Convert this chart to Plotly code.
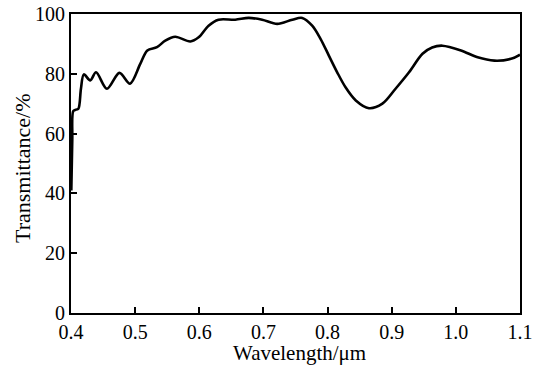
import plotly.graph_objects as go

wavelength = [0.4005, 0.402, 0.4035, 0.4075, 0.4115, 0.4155, 0.420, 0.430, 0.439, 0.456, 0.4755, 0.492,
              0.508, 0.519, 0.534, 0.547, 0.5625, 0.586, 0.599, 0.6145, 0.630, 0.656, 0.677, 0.698,
              0.7214, 0.745, 0.7605, 0.776, 0.789, 0.802, 0.815, 0.828, 0.844, 0.8645, 0.8855,
              0.906, 0.927, 0.948, 0.963, 0.979, 1.008, 1.034, 1.060, 1.086, 1.1]
transmittance = [41, 58, 67.5, 68, 68.3, 75, 79.8, 77.8, 80.5, 75, 80.3, 76.7,
                 83.3, 87.8, 88.9, 91.1, 92.4, 90.8, 92.2, 96.1, 98.1, 98.1, 98.7, 98.1,
                 96.7, 98.1, 98.7, 96.1, 91.7, 86.1, 80.5, 75.5, 71.1, 68.5, 70,
                 75, 80.5, 86.7, 88.8, 89.4, 87.8, 85.5, 84.4, 85, 86.4]

x_ticks = [0.4, 0.5, 0.6, 0.7, 0.8, 0.9, 1.0, 1.1]
y_ticks = [0, 20, 40, 60, 80, 100]
x_title = "Wavelength/μm"
y_title = "Transmittance/%"

fig = go.Figure(go.Scatter(
    x=wavelength, y=transmittance, mode="lines",
    line=dict(color="black", width=2.6, shape="spline", smoothing=0.9),
    showlegend=False, hoverinfo="skip"))

serif = "Liberation Serif, Times New Roman, serif"
tick_font = dict(family=serif, size=20, color="black")
axis_common = dict(showline=True, linecolor="black", linewidth=2, mirror=True,
                   ticks="inside", ticklen=6, tickwidth=2, tickcolor="black",
                   showgrid=False, zeroline=False, tickfont=tick_font, automargin=False)

fig.update_layout(
    width=545, height=365,
    margin=dict(l=71, r=25, t=14, b=52),
    paper_bgcolor="white", plot_bgcolor="white",
    font=tick_font,
    xaxis=dict(range=[0.4, 1.1], tickvals=x_ticks, tickformat=".1f", **axis_common),
    yaxis=dict(range=[0, 100], tickvals=y_ticks, **axis_common),
    annotations=[
        dict(text=x_title, xref="paper", yref="paper", x=0.508, y=0, yshift=-40,
             xanchor="center", yanchor="middle", showarrow=False,
             font=dict(family=serif, size=21, color="black")),
        dict(text=y_title, xref="paper", yref="paper", x=0, y=0.485, xshift=-48,
             xanchor="center", yanchor="middle", textangle=-90, showarrow=False,
             font=dict(family=serif, size=22, color="black")),
    ],
)

# remove the default 8px page margin so the figure sits at the window's corner
fig.write_html("out.html", config={"displayModeBar": False},
               post_script="document.body.style.margin='0';")
